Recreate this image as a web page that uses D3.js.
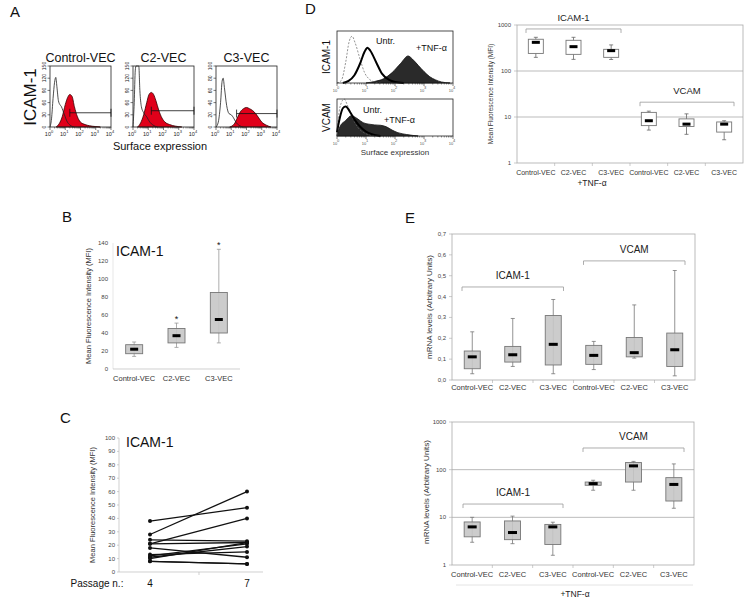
<!DOCTYPE html>
<html>
<head>
<meta charset="utf-8">
<script src="https://cdn.jsdelivr.net/npm/d3@7"></script>
<style>
  body {margin: 0; background: #fff;}
  svg {font-family: "Liberation Sans", Arial, sans-serif;}
</style>
</head>
<body>
<svg id="fig" width="748" height="601"></svg>
<script>
// ---- panel A: flow histograms (log10 fluorescence, counts)
const histCats = ["Control-VEC", "C2-VEC", "C3-VEC"]
const histYMax = [150, 150, 100]
const histYTicks = [[0, 30, 60, 90, 120, 150], [0, 30, 60, 90, 120, 150], [0, 20, 40, 60, 80, 100]]
const histOpen = [
    [[0,0],[0.1,20],[0.2,70],[0.3,110],[0.38,122],[0.45,100],[0.55,65],[0.65,55],[0.75,50],[0.85,40],[0.95,30],[1.1,15],[1.3,5],[1.6,0]],
    [[0,0],[0.08,60],[0.15,140],[0.2,160],[0.3,165],[0.38,150],[0.45,90],[0.55,50],[0.7,35],[0.9,25],[1.1,12],[1.3,5],[1.6,0]],
    [[0,0],[0.15,8],[0.3,40],[0.4,75],[0.47,80],[0.55,65],[0.7,35],[0.85,22],[1.0,20],[1.15,15],[1.3,8],[1.5,3],[1.8,0]]
]
const histRed = [
    [[0.4,0],[0.6,8],[0.8,25],[1.0,55],[1.15,72],[1.3,80],[1.45,75],[1.6,50],[1.8,25],[2.0,12],[2.3,6],[2.6,3],[3.0,1],[3.3,0]],
    [[0.3,0],[0.5,10],[0.7,30],[0.9,60],[1.05,80],[1.2,85],[1.35,80],[1.5,65],[1.7,40],[1.9,22],[2.1,12],[2.4,6],[2.8,2],[3.2,0]],
    [[0.9,0],[1.2,5],[1.4,15],[1.6,25],[1.8,30],[2.0,32],[2.2,30],[2.4,27],[2.6,22],[2.8,15],[3.0,8],[3.3,3],[3.6,0]]
]
const histMarker = [[1.3, 35], [1.2, 40], [1.35, 22]]   // gate start (log10), level
const logTicks = [0, 1, 2, 3, 4]

// ---- panel B: ICAM-1 MFI boxplots [min, q1, median, q3, max]
const bCats = ["Control-VEC", "C2-VEC", "C3-VEC"]
const bStats = [[14, 17, 22, 27, 30], [24, 29, 37, 45, 51], [29, 40, 55, 85, 133]]
const bSignif = [false, true, true]
const bTicks = [0, 20, 40, 60, 80, 100, 120, 140]

// ---- panel C: MFI at passage 4 and 7
const passages = [4, 7]
const mfiP4 = [38, 28, 21, 24, 21, 18, 13, 12, 11, 10, 8, 8]
const mfiP7 = [48, 60, 40, 23, 22, 11, 15, 21, 19, 22, 6, 6]
const cTicks = [0, 10, 20, 30, 40, 50, 60, 70, 80, 90, 100]

// ---- panel D: histograms (percent of max) and MFI boxplots
const dDashed = [
    [[0,0],[0.15,5],[0.3,40],[0.42,80],[0.52,90],[0.62,78],[0.8,45],[0.95,20],[1.1,8],[1.3,2],[1.5,0]],
    [[0,0],[0.05,50],[0.15,90],[0.25,100],[0.35,85],[0.5,55],[0.7,25],[0.9,10],[1.1,3],[1.3,0]]
]
const dUntr = [
    [[0.2,0],[0.4,4],[0.6,15],[0.8,38],[0.95,60],[1.05,68],[1.15,62],[1.35,40],[1.55,18],[1.8,6],[2.0,2],[2.3,0]],
    [[0,10],[0.1,50],[0.2,75],[0.3,80],[0.45,65],[0.6,45],[0.8,25],[1.0,12],[1.2,5],[1.5,0]]
]
const dTnf = [
    [[1.0,0],[1.3,3],[1.6,8],[1.9,20],[2.2,38],[2.45,52],[2.6,46],[2.8,34],[3.0,22],[3.2,12],[3.4,6],[3.6,2],[3.9,0]],
    [[0,0],[0.1,25],[0.3,42],[0.5,55],[0.7,47],[0.9,36],[1.1,32],[1.3,30],[1.5,29],[1.7,25],[1.9,16],[2.1,9],[2.4,4],[2.8,0]]
]
const dHistNames = ["ICAM-1", "VCAM"]
const groupCats = ["Control-VEC", "C2-VEC", "C3-VEC", "Control-VEC", "C2-VEC", "C3-VEC"]
const dStats = [[198, 241, 420, 490, 540], [179, 230, 338, 465, 540], [178, 198, 277, 296, 369],
    [5.2, 6.5, 8.3, 12.6, 13.4], [4.2, 6.2, 7.0, 9.1, 11.7], [3.2, 4.7, 7.0, 7.8, 8.3]]
const logBoxTicks = [1, 10, 100, 1000]

// ---- panel E: mRNA levels
const eTopStats = [[0.03, 0.054, 0.111, 0.139, 0.231], [0.065, 0.086, 0.121, 0.161, 0.295],
    [0.03, 0.072, 0.171, 0.309, 0.386], [0.05, 0.075, 0.118, 0.166, 0.185],
    [0.105, 0.111, 0.131, 0.204, 0.36], [0.02, 0.065, 0.145, 0.225, 0.525]]
const eTopTicks = [0, 0.1, 0.2, 0.3, 0.4, 0.5, 0.6, 0.7]
const eBotStats = [[3.0, 3.9, 6.3, 8.0, 10], [2.8, 3.4, 4.8, 8.4, 10.6], [1.6, 2.7, 6.3, 7.1, 7.9],
    [37, 47, 51, 55, 60], [37, 55, 120, 141, 149], [15.5, 22, 49, 68, 132]]

const svg = d3.select("#fig")

function label(x, y, txt, size, opts = {}) {
    const t = svg.append("text").attr("x", x).attr("y", y).attr("font-size", size)
        .attr("text-anchor", opts.anchor || "middle").attr("fill", opts.fill || "#111").text(txt)
    if (opts.rotate) t.attr("transform", "rotate(-90," + x + "," + y + ")")
    return t
}

// panel letters
label(10, 17, "A", 15, {anchor: "start"})
label(62, 222, "B", 15, {anchor: "start"})
label(60, 423, "C", 15, {anchor: "start"})
label(305, 14, "D", 15, {anchor: "start"})
label(405, 223, "E", 15, {anchor: "start"})

// ---------- histogram helper
function histogram(g, w, h, yMax, series, yTicks) {
    const x = d3.scaleLinear().domain([0, 4]).range([0, w])
    const y = d3.scaleLinear().domain([0, yMax]).range([h, 0]).clamp(true)
    const area = d3.area().x(d => x(d[0])).y0(h).y1(d => y(d[1])).curve(d3.curveMonotoneX)
    const line = d3.line().x(d => x(d[0])).y(d => y(d[1])).curve(d3.curveMonotoneX)
    series.forEach(s => {
        if (s.fill) g.append("path").attr("d", area(s.data)).attr("fill", s.fill)
            .attr("stroke", s.stroke || "#000").attr("stroke-width", 0.8)
        else g.append("path").attr("d", line(s.data)).attr("fill", "none").attr("stroke", s.stroke)
            .attr("stroke-width", s.width || 0.9).attr("stroke-dasharray", s.dash || null)
    })
    g.append("rect").attr("width", w).attr("height", h).attr("fill", "none").attr("stroke", "#222").attr("stroke-width", 0.8)
    // log x ticks with minors
    const minors = []
    logTicks.slice(0, -1).forEach(d => d3.range(2, 10).forEach(m => minors.push(d + Math.log10(m))))
    g.selectAll(".mn").data(minors).enter().append("line")
        .attr("x1", d => x(d)).attr("x2", d => x(d)).attr("y1", h).attr("y2", h + 1.5).attr("stroke", "#222").attr("stroke-width", 0.5)
    g.selectAll(".mj").data(logTicks).enter().append("line")
        .attr("x1", d => x(d)).attr("x2", d => x(d)).attr("y1", h).attr("y2", h + 3).attr("stroke", "#222").attr("stroke-width", 0.6)
    g.selectAll(".xl").data(logTicks).enter().append("text")
        .attr("x", d => x(d) - 1).attr("y", h + 9).attr("font-size", 5.5).attr("text-anchor", "middle").attr("fill", "#222")
        .each(function(d) {
            d3.select(this).text("10").append("tspan").attr("dy", -3).attr("font-size", 4).text(d)
        })
    if (yTicks) {
        g.selectAll(".yt").data(yTicks).enter().append("line")
            .attr("x1", -2.5).attr("x2", 0).attr("y1", d => y(d)).attr("y2", d => y(d)).attr("stroke", "#222").attr("stroke-width", 0.6)
        g.selectAll(".yl").data(yTicks).enter().append("text")
            .attr("transform", d => "translate(-4," + y(d) + ") rotate(-90)")
            .attr("font-size", 5).attr("text-anchor", "middle").attr("fill", "#222").text(d => d)
    }
    return {x, y}
}

// ---------- panel A
const aLeft = [50, 133, 216], aTop = 66, aW = 61, aH = 61
histCats.forEach((c, i) => {
    const g = svg.append("g").attr("transform", "translate(" + aLeft[i] + "," + aTop + ")")
    const sc = histogram(g, aW, aH, histYMax[i], [
        {data: histRed[i], fill: "#e0001a", stroke: "#300"},
        {data: histOpen[i], stroke: "#222", width: 0.8}
    ], histYTicks[i])
    const m = histMarker[i]
    g.append("line").attr("x1", sc.x(m[0])).attr("x2", aW).attr("y1", sc.y(m[1])).attr("y2", sc.y(m[1])).attr("stroke", "#111").attr("stroke-width", 0.8)
    g.append("line").attr("x1", sc.x(m[0])).attr("x2", sc.x(m[0])).attr("y1", sc.y(m[1]) - 4).attr("y2", sc.y(m[1]) + 4).attr("stroke", "#111").attr("stroke-width", 0.8)
    g.append("line").attr("x1", aW).attr("x2", aW).attr("y1", sc.y(m[1]) - 4).attr("y2", sc.y(m[1]) + 4).attr("stroke", "#111").attr("stroke-width", 0.8)
    label(aLeft[i] + aW / 2, 62, c, 12.5)
})
label(36, 97, "ICAM-1", 17, {rotate: true})
label(160, 150, "Surface expression", 11)

// ---------- boxplot helper
function boxes(g, x, y, stats, opt) {
    const bw = opt.boxW
    stats.forEach((s, i) => {
        const cx = x(i) + x.bandwidth() / 2
        g.append("line").attr("x1", cx).attr("x2", cx).attr("y1", y(s[0])).attr("y2", y(s[4]))
            .attr("stroke", opt.whisker || "#777").attr("stroke-width", 0.8)
        ;[s[0], s[4]].forEach(v => g.append("line").attr("x1", cx - 2).attr("x2", cx + 2).attr("y1", y(v)).attr("y2", y(v))
            .attr("stroke", opt.whisker || "#777").attr("stroke-width", 0.8))
        g.append("rect").attr("x", cx - bw / 2).attr("y", y(s[3])).attr("width", bw).attr("height", y(s[1]) - y(s[3]))
            .attr("fill", opt.fill).attr("fill-opacity", opt.fill === "#fff" ? 1 : 0.9).attr("stroke", "#777").attr("stroke-width", 0.9)
        g.append("rect").attr("x", cx - opt.medW / 2).attr("y", y(s[2]) - 1.5).attr("width", opt.medW).attr("height", 3).attr("fill", "#000")
    })
}

// ---------- panel B
{
    const x = d3.scaleBand().domain(d3.range(bCats.length)).range([113, 240])
    const y = d3.scaleLinear().domain([0, 140]).range([369, 243])
    const g = svg.append("g")
    g.append("line").attr("x1", 113).attr("x2", 113).attr("y1", 243).attr("y2", 369).attr("stroke", "#ddd").attr("stroke-width", 0.7)
    g.append("line").attr("x1", 113).attr("x2", 240).attr("y1", 369).attr("y2", 369).attr("stroke", "#bbb").attr("stroke-width", 0.7)
    g.selectAll(".bt").data(bTicks).enter().append("text").attr("x", 108).attr("y", d => y(d) + 2)
        .attr("font-size", 6).attr("text-anchor", "end").attr("fill", "#444").text(d => d)
    boxes(g, x, y, bStats, {boxW: 17, medW: 8, fill: "#c6c6c6", whisker: "#999"})
    bCats.forEach((c, i) => {
        label(x(i) + x.bandwidth() / 2, 381, c, 7.5, {fill: "#333"})
        if (bSignif[i]) label(x(i) + x.bandwidth() / 2, y(bStats[i][4]) - 1, "*", 9)
    })
    label(116, 256, "ICAM-1", 14, {anchor: "start"})
    label(91, 306, "Mean Fluorescence Intensity (MFI)", 7.5, {rotate: true, fill: "#333"})
}

// ---------- panel C
{
    const x = d3.scaleLinear().domain(passages).range([150, 247])
    const y = d3.scaleLinear().domain([0, 100]).range([572, 438])
    const g = svg.append("g")
    g.append("line").attr("x1", 119).attr("x2", 119).attr("y1", 438).attr("y2", 572).attr("stroke", "#bbb").attr("stroke-width", 0.7)
    g.append("line").attr("x1", 119).attr("x2", 263).attr("y1", 572).attr("y2", 572).attr("stroke", "#bbb").attr("stroke-width", 0.7)
    g.append("line").attr("x1", 199).attr("x2", 199).attr("y1", 572).attr("y2", 575).attr("stroke", "#bbb").attr("stroke-width", 0.7)
    g.selectAll(".ct").data(cTicks).enter().append("line").attr("x1", 117).attr("x2", 119)
        .attr("y1", d => y(d)).attr("y2", d => y(d)).attr("stroke", "#bbb").attr("stroke-width", 0.7)
    g.selectAll(".cl").data(cTicks).enter().append("text").attr("x", 115).attr("y", d => y(d) + 2)
        .attr("font-size", 6).attr("text-anchor", "end").attr("fill", "#444").text(d => d)
    mfiP4.forEach((v, i) => {
        const pts = [[passages[0], v], [passages[1], mfiP7[i]]]
        g.append("line").attr("x1", x(pts[0][0])).attr("y1", y(pts[0][1])).attr("x2", x(pts[1][0])).attr("y2", y(pts[1][1]))
            .attr("stroke", "#111").attr("stroke-width", 1.3)
        pts.forEach(p => g.append("circle").attr("cx", x(p[0])).attr("cy", y(p[1])).attr("r", 2).attr("fill", "#111"))
    })
    label(126, 447, "ICAM-1", 14, {anchor: "start"})
    label(95, 505, "Mean Fluorescence Intensity (MFI)", 7.5, {rotate: true, fill: "#333"})
    label(97, 587, "Passage n.:", 10)
    passages.forEach(p => label(x(p), 587, p, 10))
}

// ---------- panel D histograms
{
    const tops = [31, 99], dx = 337, dW = 116, dHs = [52, 37]
    dHistNames.forEach((n, i) => {
        const g = svg.append("g").attr("transform", "translate(" + dx + "," + tops[i] + ")")
        histogram(g, dW, dHs[i], 100, [
            {data: dTnf[i], fill: "#2a2a2a", stroke: "#111"},
            {data: dDashed[i], stroke: "#666", width: 0.7, dash: "2,1.5"},
            {data: dUntr[i], stroke: "#000", width: 2}
        ], null)
        g.selectAll("text").attr("font-size", 4).attr("fill", "#555")
        label(330, tops[i] + dHs[i] / 2, n, 10, {rotate: true})
    })
    label(376, 44, "Untr.", 9, {anchor: "start"})
    label(416, 51, "+TNF-\u03b1", 9, {anchor: "start"})
    label(363, 113, "Untr.", 9, {anchor: "start"})
    label(384, 123, "+TNF-\u03b1", 9, {anchor: "start"})
    label(395, 155, "Surface expression", 8, {fill: "#333"})
}

// ---------- log boxplot with frame + brackets
function framePlot(x0, x1, y, ticks, fmt) {
    const g = svg.append("g")
    g.append("rect").attr("x", x0).attr("y", y.range()[1]).attr("width", x1 - x0).attr("height", y.range()[0] - y.range()[1])
        .attr("fill", "none").attr("stroke", "#aaa").attr("stroke-width", 0.8)
    g.selectAll(".tl").data(ticks).enter().append("text").attr("x", x0 - 6).attr("y", d => y(d) + 2)
        .attr("font-size", 6).attr("text-anchor", "end").attr("fill", "#444").text(fmt)
    g.selectAll(".tk").data(ticks).enter().append("line").attr("x1", x0 - 3).attr("x2", x0)
        .attr("y1", d => y(d)).attr("y2", d => y(d)).attr("stroke", "#aaa").attr("stroke-width", 0.6)
    return g
}
function bracket(x0, x1, yy, txt, size) {
    svg.append("path").attr("d", "M" + x0 + "," + (yy + 4) + "V" + yy + "H" + x1 + "V" + (yy + 4))
        .attr("fill", "none").attr("stroke", "#999").attr("stroke-width", 0.8)
    label((x0 + x1) / 2, yy - 8, txt, size, {fill: "#222"})
}
function catLabels(x, yy, size) {
    groupCats.forEach((c, i) => label(x(i) + x.bandwidth() / 2, yy, c, size, {fill: "#333"}))
    x.domain().slice(1).forEach(i => svg.append("line").attr("x1", x(i)).attr("x2", x(i))
        .attr("y1", x.bottomY).attr("y2", x.bottomY + 3).attr("stroke", "#aaa").attr("stroke-width", 0.6))
}

// ---------- panel D boxplot
{
    const x = d3.scaleBand().domain(d3.range(6)).range([517, 743])
    const y = d3.scaleLog().domain([1, 1000]).range([163, 25])
    const g = framePlot(517, 743, y, logBoxTicks, d => d)
    ;[10, 100].forEach(v => g.append("line").attr("x1", 517).attr("x2", 743).attr("y1", y(v)).attr("y2", y(v)).attr("stroke", "#aaa").attr("stroke-width", 0.8))
    boxes(g, x, y, dStats, {boxW: 15, medW: 8, fill: "#fff", whisker: "#666"})
    x.bottomY = 163
    catLabels(x, 175, 7)
    bracket(x(0) + 9, x(2) + x.bandwidth() - 9, y(820), "ICAM-1", 9.5)
    bracket(x(3) + 10, x(5) + x.bandwidth() - 9, y(21), "VCAM", 9.5)
    label(493, 94, "Mean Fluorescence Intensity (MFI)", 6.5, {rotate: true, fill: "#333"})
    label(592, 186, "+TNF-\u03b1", 8.5, {fill: "#222"})
}

// ---------- panel E top
{
    const x = d3.scaleBand().domain(d3.range(6)).range([452, 695])
    const y = d3.scaleLinear().domain([0, 0.7]).range([380, 234])
    const g = framePlot(452, 695, y, eTopTicks, d => d3.format(".1f")(d).replace(".", ","))
    boxes(g, x, y, eTopStats, {boxW: 16, medW: 9, fill: "#c6c6c6", whisker: "#777"})
    x.bottomY = 380
    catLabels(x, 390, 7.5)
    bracket(x(0) + 10, x(2) + x.bandwidth() - 10, y(0.446), "ICAM-1", 10)
    bracket(x(3) + 10, x(5) + x.bandwidth() - 10, y(0.571), "VCAM", 10)
    label(432, 307, "mRNA levels (Arbitrary Units)", 8, {rotate: true, fill: "#333"})
}

// ---------- panel E bottom
{
    const x = d3.scaleBand().domain(d3.range(6)).range([452, 694])
    const y = d3.scaleLog().domain([1, 1000]).range([565, 422])
    const g = framePlot(452, 694, y, logBoxTicks, d => d)
    ;[10, 100].forEach(v => g.append("line").attr("x1", 452).attr("x2", 694).attr("y1", y(v)).attr("y2", y(v)).attr("stroke", "#aaa").attr("stroke-width", 0.8))
    boxes(g, x, y, eBotStats, {boxW: 16, medW: 9, fill: "#c6c6c6", whisker: "#777"})
    x.bottomY = 565
    catLabels(x, 577, 7.5)
    bracket(x(0) + 11, x(2) + x.bandwidth() - 10, y(19), "ICAM-1", 10)
    bracket(x(3) + 10, x(5) + x.bandwidth() - 10, y(285), "VCAM", 10)
    svg.append("line").attr("x1", 456).attr("x2", 693).attr("y1", 585).attr("y2", 585).attr("stroke", "#ddd").attr("stroke-width", 0.8)
    label(429, 492, "mRNA levels (Arbitrary Units)", 8, {rotate: true, fill: "#333"})
    label(575, 597, "+TNF-\u03b1", 8.5, {fill: "#222"})
}
</script>
</body>
</html>
